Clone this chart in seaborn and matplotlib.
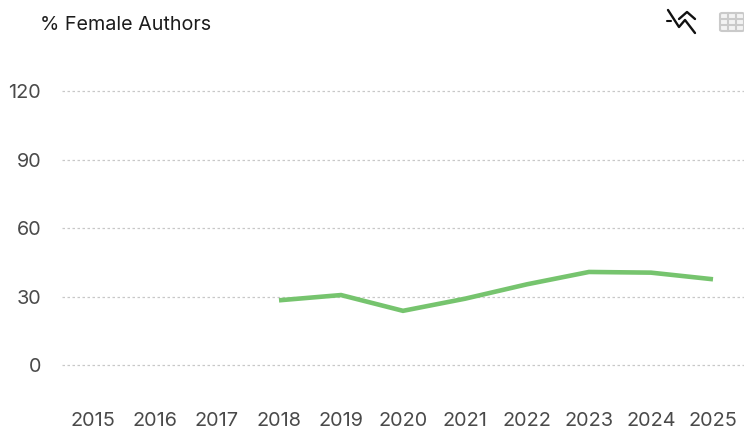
import matplotlib
matplotlib.use('Agg')
import matplotlib.pyplot as plt
from matplotlib.lines import Line2D
from matplotlib.patches import FancyBboxPatch
import pandas as pd
import seaborn as sns

years = [2018, 2019, 2020, 2021, 2022, 2023, 2024, 2025]
pct_female = [28.5, 30.8, 23.9, 29.2, 35.5, 40.9, 40.6, 37.7]
x_ticks = list(range(2015, 2026))
y_ticks = [0, 30, 60, 90, 120]

W, H = 744, 432

sns.set_theme(style='white')
plt.rcParams['font.family'] = ['Inter', 'DejaVu Sans']

fig = plt.figure(figsize=(W / 100, H / 100), dpi=100)
# axes box in pixels: x 62-744, y 60-400
ax = fig.add_axes([62 / W, 1 - 400 / H, (744 - 62) / W, 340 / H])

df = pd.DataFrame({'year': years, 'pct': pct_female})
sns.lineplot(data=df, x='year', y='pct', color='#76c46e', linewidth=3.3, ax=ax,
             solid_capstyle='butt', solid_joinstyle='miter')

ax.set_xlim(2014.5, 2025.5)
ax.set_ylim(-15.1, 133.6)
ax.set_xticks(x_ticks)
ax.set_yticks(y_ticks)
ax.set_xlabel('')
ax.set_ylabel('')
ax.grid(axis='y', color='#c8c8c8', linestyle=(0, (2.0, 2.0)), linewidth=0.9)
ax.set_axisbelow(True)
ax.tick_params(axis='x', length=0, pad=9, labelsize=14.3, labelcolor='#4a4a4a')
ax.tick_params(axis='y', length=0, pad=15, labelsize=14.3, labelcolor='#4a4a4a')
for s in ax.spines.values():
    s.set_visible(False)

fig.text(40.5 / W, 1 - 25 / H, '% Female Authors', fontsize=14.2, color='#1c1c1c',
         ha='left', va='center')


def px_line(xs, ys, **kw):
    fig.add_artist(Line2D([x / W for x in xs], [1 - y / H for y in ys],
                          transform=fig.transFigure, **kw))


# chart / table toggle icons top right
px_line([668, 679, 685, 695], [10, 27, 20, 33], color='#111111', linewidth=1.7)
px_line([679, 687, 695], [19, 12, 19], color='#111111', linewidth=1.7)
px_line([667, 671], [20.5, 20.5], color='#111111', linewidth=1.5)

grey = '#cacaca'
fig.add_artist(FancyBboxPatch((720 / W, 1 - 31 / H), 24 / W, 18 / H,
                              boxstyle='round,pad=0,rounding_size=0.003',
                              transform=fig.transFigure, facecolor='#f3f3f3',
                              edgecolor=grey, linewidth=1.5))
for gx in [728, 736]:
    px_line([gx, gx], [13, 31], color=grey, linewidth=1.5)
for gy in [19, 25]:
    px_line([720, 744], [gy, gy], color=grey, linewidth=1.5)

fig.savefig('out.png', dpi=100)
